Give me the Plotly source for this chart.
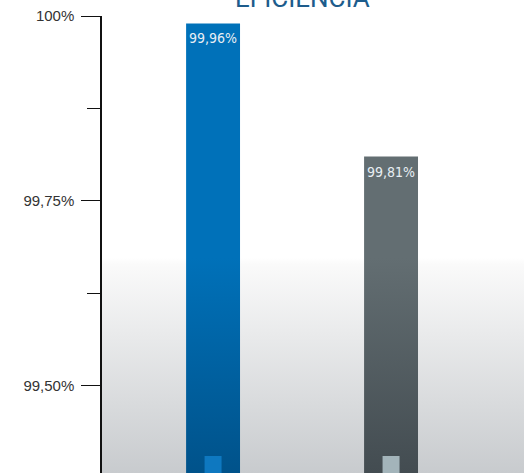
import plotly.graph_objects as go

# ---- data ----
positions = [0, 1]                      # bar slots (no category labels shown)
bar_values = [99.99, 99.81]             # drawn bar tops
bar_labels = ["99,96%", "99,81%"]       # printed labels
tick_vals = [99.50, 99.75, 100.0]
tick_text = ["99,50%", "99,75%", "100%"]
minor_tick_vals = [99.625, 99.875]
title_text = "EFICIENCIA"

# ---- styling / layout constants ----
Y_MIN, Y_MAX = 99.382, 100.0
X_MIN, X_MAX = -0.624, 1.747
BAR_W = 0.303
SQ_W = 0.0955
SQ_H = 0.023
FADE_Y = 99.673  # level where the gradients begin
top_colors = ["#0071b9", "#636e72"]
bottom_colors = ["#00528a", "#434c51"]
square_colors = ["#0e78c0", "#a3b4ba"]


def rect(xc, w, y0, y1):
    return ([xc - w / 2, xc + w / 2, xc + w / 2, xc - w / 2, xc - w / 2],
            [y0, y0, y1, y1, y0])


fig = go.Figure()

# plot-area background gradient
fig.add_trace(go.Scatter(
    x=[X_MIN, X_MAX, X_MAX, X_MIN, X_MIN],
    y=[Y_MIN, Y_MIN, Y_MAX, Y_MAX, Y_MIN],
    mode="lines", line=dict(width=0), fill="toself",
    fillgradient=dict(type="vertical",
                      colorscale=[[0, "#c8cbce"], [0.97, "#fafafa"], [1, "#ffffff"]],
                      start=Y_MIN, stop=FADE_Y),
    hoverinfo="skip", showlegend=False))

# bars with vertical gradient
for x, v, ct, cb in zip(positions, bar_values, top_colors, bottom_colors):
    frac = (FADE_Y - Y_MIN) / (v - Y_MIN)
    xs, ys = rect(x, BAR_W, Y_MIN, v)
    fig.add_trace(go.Scatter(
        x=xs, y=ys, mode="lines", line=dict(width=0), fill="toself",
        fillgradient=dict(type="vertical",
                          colorscale=[[0, cb], [frac, ct], [1, ct]],
                          start=Y_MIN, stop=v),
        hoverinfo="skip", showlegend=False))

# small squares at the bar feet
for x, c in zip(positions, square_colors):
    xs, ys = rect(x, SQ_W, Y_MIN, Y_MIN + SQ_H)
    fig.add_trace(go.Scatter(
        x=xs, y=ys, mode="lines", line=dict(width=0), fill="toself",
        fillcolor=c, hoverinfo="skip", showlegend=False))

# value labels inside bars
for x, v, t in zip(positions, bar_values, bar_labels):
    fig.add_annotation(x=x, y=v, text=t, showarrow=False, yanchor="top",
                       yshift=-5, xref="x", yref="y",
                       font=dict(family="DejaVu Sans Condensed, Liberation Sans Narrow, Roboto",
                                 size=14, color="#e8eef4"))

# title (cut off at the top)
fig.add_annotation(x=0.5, y=1, xref="x", yref="paper", text=title_text,
                   showarrow=False, yanchor="bottom", yshift=1,
                   font=dict(family="Roboto", size=26, color="#1d5c8c"))

fig.update_layout(
    width=524, height=473,
    margin=dict(l=102, r=0, t=16, b=0, pad=0),
    paper_bgcolor="white", plot_bgcolor="white",
    xaxis=dict(range=[X_MIN, X_MAX], visible=False, fixedrange=True),
    yaxis=dict(range=[Y_MIN, Y_MAX], showgrid=False, zeroline=False,
               showline=True, linecolor="#111", linewidth=1.5,
               ticks="outside", ticklen=19, tickwidth=1.3, tickcolor="#111",
               tickvals=tick_vals, ticktext=tick_text,
               ticklabelstandoff=4, ticklabeloverflow="allow",
               tickfont=dict(family="Liberation Sans", size=15, color="#333"),
               minor=dict(tickvals=minor_tick_vals, ticks="outside", ticklen=13,
                          tickwidth=1.3, tickcolor="#111", showgrid=False)),
)

fig.write_html("out.html", config={"displayModeBar": False},
               post_script="document.body.style.margin='0';document.body.style.overflow='hidden';")
